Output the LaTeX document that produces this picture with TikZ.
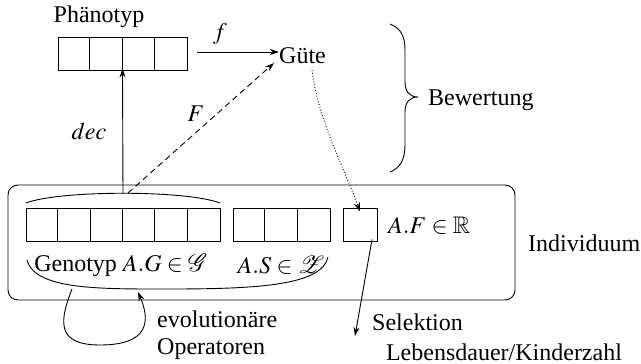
\documentclass[tikz,border=0pt]{standalone}
\usepackage{mathptmx}
\usepackage{amssymb}
\usepackage{mathrsfs}
\usepackage[no-math]{fontspec}
\setmainfont{Liberation Serif}
\usetikzlibrary{arrows.meta}
\begin{document}
\begin{tikzpicture}[x=1pt,y=-1pt,
  every node/.style={font=\fontsize{24}{27}\selectfont, inner sep=0pt},
  ln/.style={line width=0.9pt},
  arr/.style={ln,-{Stealth[length=9pt,width=6pt,inset=3pt]}},
  cellrow/.style={draw, line width=0.9pt, minimum height=33pt},
  lbl/.style={anchor=west}]
\useasboundingbox (0,0) rectangle (641,364);
% phenotype
\node (pht) at (99,17) {Phänotyp};
\node (ph) [cellrow, minimum width=129pt] at (122.5,53.5) {};
\foreach \i in {1,2,3} \draw[ln] ([xshift=\i*32.25pt]ph.north west) -- ([xshift=\i*32.25pt]ph.south west);
\node (guete) [anchor=west] at (279,56) {Güte};
\coordinate (fstart) at (197,52);
\draw[arr] (fstart) -- node[above=7pt, pos=0.28] {$f$} (guete.west |- fstart);
% individuum
\node (ind) [draw, ln, rounded corners=10pt, minimum width=507pt, minimum height=115pt] at (261.5,242.5) {};
\node (gen) [cellrow, minimum width=194pt] at (123,224.5) {};
\foreach \i in {1,...,5} \draw[ln] ([xshift=\i*32.33pt]gen.north west) -- ([xshift=\i*32.33pt]gen.south west);
\node (str) [cellrow, minimum width=97pt] at (281.5,224.5) {};
\foreach \i in {1,2} \draw[ln] ([xshift=\i*32.33pt]str.north west) -- ([xshift=\i*32.33pt]str.south west);
\node (fit) [cellrow, minimum width=34pt] at (360,224.5) {};
\node (af) [lbl] at (388,226) {$A.F\in\mathbb{R}$};
\node (indl) [lbl] at (528,243) {Individuum};
\node (gl) at (121,265) {Genotyp $A.G\in\mathscr{G}$};
\node (sl) at (281,265) {$A.S\in\mathscr{Z}$};
% top arc over genotype
\coordinate (gtop) at (123,194);
\draw[ln] (26,203) .. controls (60,190) and (186,190) .. (220,203);
% bottom arc
\draw[ln] (27,260) .. controls (35,290) and (100,289) .. (170,289) .. controls (260,289) and (322,285) .. (328,257);
% dec
\draw[arr] (gtop) -- ([yshift=2pt]ph.south);
\node (dec) at (89,131) {$dec$};
% F dashed
\draw[arr, dashed, dash pattern=on 6pt off 4pt] (128,193) -- (274,63);
\node (F) at (196,114) {$F$};
% dotted
\draw[arr, dotted] (312,70) .. controls (318,120) and (345,170) .. ([yshift=-4pt]fit.north);
% brace
\draw[ln] (390,24) .. controls (400,28) and (405,35) .. (405,50) -- (405,82) .. controls (405,92) and (410,97) .. (418,97)
  .. controls (410,97) and (405,102) .. (405,112) -- (405,145) .. controls (405,160) and (400,168) .. (390,172);
\node (bew) [lbl] at (428,100) {Bewertung};
% evolutionary operators loop
\coordinate (lstart) at (72,289);
\coordinate (lend) at (138,292);
\draw[arr] (lstart) .. controls (60,320) and (55,345) .. (100,345) .. controls (150,345) and (150,320) .. (lend);
\node (evo) [lbl, align=left] at (157,335) {evolutionäre\\Operatoren};
% selection
\coordinate (selend) at (355,336);
\draw[arr] ([yshift=2pt]fit.south -| 372,0) -- (selend);
\node (sel) [lbl] at (372,322) {Selektion};
\node (leb) at (504,352) {Lebensdauer/Kinderzahl};
\end{tikzpicture}
\end{document}
